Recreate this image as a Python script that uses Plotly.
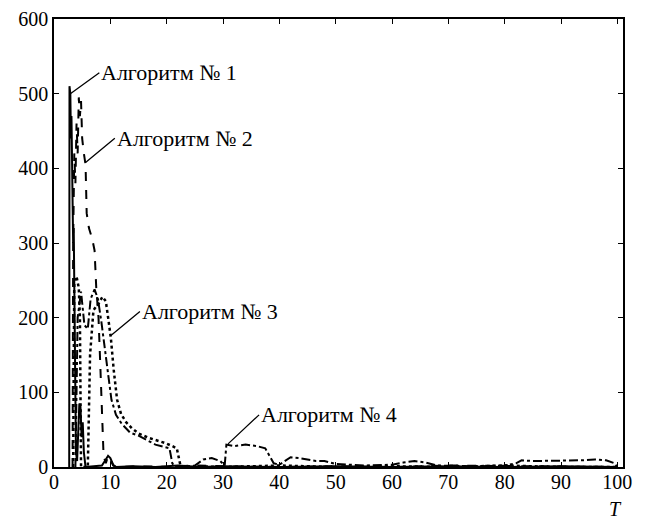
import plotly.graph_objects as go

# Algorithm 1 (solid)
t1 = [2.7, 2.75, 2.9, 3.0, 3.1, 3.2, 3.3, 3.4, 3.5, 3.6, 3.7, 3.8, 3.9, 4.1, 4.3, 4.5, 4.7, 4.9, 5.1, 5.3, 5.6,
      7, 8.5, 9.2, 9.6, 10, 10.5, 11, 14, 18, 22, 26, 30, 40, 50, 60, 70, 80, 90, 100]
v1 = [0, 510, 500, 440, 470, 380, 400, 300, 320, 240, 260, 150, 20, 8, 50, 85, 80, 40, 60, 20, 0,
      1, 2, 10, 15, 12, 3, 0, 1, 0, 2, 0, 1, 0, 1, 0, 1, 0, 1, 0]

# Algorithm 2 (dashed)
t2 = [3.3, 3.4, 3.6, 3.8, 4.0, 4.2, 4.4, 4.6, 4.8, 5.0, 5.3, 5.6, 5.8, 6.2, 6.8, 7.2, 7.5, 7.9, 8.2, 8.5, 8.8,
      9.2, 9.6, 10, 10.5, 11, 15, 20, 25, 30, 40, 50, 60, 70, 80, 90, 100]
v2 = [0, 300, 420, 380, 460, 420, 495, 470, 490, 440, 420, 405, 340, 320, 305, 290, 240, 200, 140, 60, 15,
      5, 15, 10, 2, 0, 1, 0, 2, 1, 0, 1, 0, 2, 1, 0, 0]

# Algorithm 3 (dotted)
t3 = [3.4, 3.6, 4.0, 4.4, 4.6, 4.8, 6.0, 6.4, 7.0, 8.0, 8.6, 9.2, 9.7, 10.1, 10.6, 11.2, 11.9, 12.8, 13.8, 15,
      16.8, 18.5, 19.8, 21, 21.8, 22.5, 25, 30, 40, 50, 60, 70, 80, 90, 100]
v3 = [0, 250, 255, 240, 200, 0, 0, 150, 210, 220, 228, 222, 195, 172, 130, 90, 71, 60, 52, 45,
      39, 35, 32, 28, 25, 0, 1, 0, 2, 0, 1, 0, 2, 0, 0]

# Algorithm 4 (dash-dot)
t4 = [3.8, 4.2, 4.8, 5.4, 6.0, 6.5, 7.2, 7.8, 8.4, 9.0, 9.6, 10.2, 11, 12, 13.5, 15, 16.5, 18, 19.5, 20.5, 21,
      21.5, 23, 25, 26.5, 28, 29.5, 30.3, 30.6, 32, 34, 36, 37.5, 39, 40, 41, 42, 43.5, 45, 46.5, 48, 50,
      55, 60, 62, 64, 66, 68, 75, 80, 82, 83, 85, 88, 90, 92, 94, 96, 98, 99.5, 100]
v4 = [0, 200, 235, 190, 185, 225, 238, 225, 195, 160, 120, 90, 70, 58, 46, 42, 36, 30, 27, 25, 5,
      0, 0, 2, 10, 12, 8, 2, 30, 28, 30, 28, 25, 5, 3, 8, 13, 12, 10, 8, 8, 4,
      2, 3, 6, 8, 6, 2, 1, 2, 5, 9, 8, 8, 9, 8, 9, 10, 9, 5, 0]

x_ticks = [0, 10, 20, 30, 40, 50, 60, 70, 80, 90, 100]
y_ticks = [0, 100, 200, 300, 400, 500, 600]
labels = ["Алгоритм № 1", "Алгоритм № 2", "Алгоритм № 3", "Алгоритм № 4"]
label_points = [(2.9, 500), (5.65, 408), (10.1, 176), (30.9, 31)]

FONT = "Liberation Serif, Times New Roman, DejaVu Serif, serif"

fig = go.Figure()
fig.add_trace(go.Scatter(x=t1, y=v1, mode="lines", line=dict(color="black", width=2, dash="solid")))
fig.add_trace(go.Scatter(x=t2, y=v2, mode="lines", line=dict(color="black", width=2, dash="dash")))
fig.add_trace(go.Scatter(x=t3, y=v3, mode="lines", line=dict(color="black", width=2.5, dash="dot")))
fig.add_trace(go.Scatter(x=t4, y=v4, mode="lines", line=dict(color="black", width=2, dash="dashdot")))

offsets = [(29, -21), (29, -24), (29, -24), (31, -29)]
for lab, (px, py), (ax, ay) in zip(labels, label_points, offsets):
    fig.add_annotation(x=px, y=py, xref="x", yref="y", text=lab, showarrow=True,
                       arrowhead=0, arrowwidth=1.3, arrowcolor="black", ax=ax, ay=ay,
                       xanchor="left", yanchor="middle",
                       font=dict(family=FONT, size=22, color="black"))

fig.add_annotation(x=1, y=0, xref="paper", yref="paper", text="<i>T</i>", showarrow=False,
                   xanchor="center", yanchor="top", yshift=-29, xshift=-8,
                   font=dict(family=FONT, size=20, color="black"))

axis_common = dict(showgrid=False, zeroline=False, showline=True, linecolor="black", linewidth=1.5,
                   mirror="allticks", ticks="inside", ticklen=5, tickcolor="black", tickwidth=1,
                   automargin=False,
                   tickfont=dict(family=FONT, size=20, color="black"))

fig.update_layout(
    width=638, height=515,
    margin=dict(l=46, r=23, t=11, b=56),
    font=dict(family=FONT, size=20, color="black"),
    paper_bgcolor="white", plot_bgcolor="white",
    showlegend=False,
    xaxis=dict(range=[0, 101], tickvals=x_ticks, ticklabelstandoff=-4, **axis_common),
    yaxis=dict(range=[0, 600], tickvals=y_ticks, **axis_common),
)

fig.write_html("out.html")
